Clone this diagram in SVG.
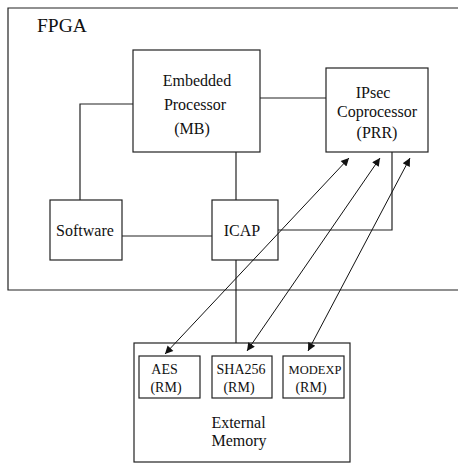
<svg xmlns="http://www.w3.org/2000/svg" width="458" height="464" viewBox="0 0 458 464">
<style>
.b{fill:#fff;stroke:#222;stroke-width:1.2}
.l{fill:none;stroke:#222;stroke-width:1.2}
.a{fill:none;stroke:#111;stroke-width:1;marker-start:url(#h);marker-end:url(#h)}
text{font-family:"Liberation Serif","Times New Roman",serif;fill:#111;text-anchor:middle}
.t{font-size:16px}
.s{font-size:14px}
.x{font-size:12.5px}
</style>
<defs>
<marker id="h" viewBox="0 0 10 10" refX="10" refY="5" markerWidth="11" markerHeight="8" markerUnits="userSpaceOnUse" orient="auto-start-reverse">
<path d="M0,0 L10,5 L0,10 Z" fill="#111"/>
</marker>
</defs>
<g id="fpga">
<path class="l" d="M458,8 H8 V290 H458"/>
<text x="37" y="32" style="font-size:19.5px;text-anchor:start">FPGA</text>
</g>
<g id="processor">
<rect class="b" x="133" y="50" width="127" height="102"/>
<text class="t" x="197" y="86">Embedded</text>
<text class="t" x="195" y="110">Processor</text>
<text class="t" x="192" y="134">(MB)</text>
</g>
<g id="ipsec">
<rect class="b" x="326" y="68" width="102" height="84"/>
<text class="t" x="373" y="98">IPsec</text>
<text class="t" x="377" y="117">Coprocessor</text>
<text class="t" x="377" y="138">(PRR)</text>
</g>
<g id="software">
<rect class="b" x="50" y="200" width="72" height="60"/>
<text class="t" x="85" y="236">Software</text>
</g>
<g id="icap">
<rect class="b" x="212" y="200" width="66" height="60"/>
<text class="t" x="242" y="236">ICAP</text>
</g>
<g id="memory">
<rect class="b" x="134" y="343" width="216" height="119"/>
<text class="t" x="238.5" y="428">External</text>
<text class="t" x="239" y="446">Memory</text>
</g>
<g id="aes">
<rect class="b" x="139" y="356" width="61" height="42"/>
<text class="s" x="164.5" y="374">AES</text>
<text class="s" x="166" y="392">(RM)</text>
</g>
<g id="sha">
<rect class="b" x="212" y="356" width="60" height="42"/>
<text class="s" x="241" y="374">SHA256</text>
<text class="s" x="239" y="392">(RM)</text>
</g>
<g id="modexp">
<rect class="b" x="283" y="356" width="61" height="42"/>
<text class="x" x="315" y="374">MODEXP</text>
<text class="s" x="311" y="392">(RM)</text>
</g>
<g id="connectors">
<path class="l" d="M133,104 H80 V200"/>
<path class="l" d="M122,236 H212"/>
<path class="l" d="M236,152 V200"/>
<path class="l" d="M236,260 V343"/>
<path class="l" d="M260,98 H326"/>
<path class="l" d="M278,230 H392 V152"/>
<line class="a" x1="165" y1="354" x2="349" y2="158"/>
<line class="a" x1="247" y1="351" x2="380" y2="158"/>
<line class="a" x1="308" y1="351" x2="410" y2="158"/>
</g>
</svg>
